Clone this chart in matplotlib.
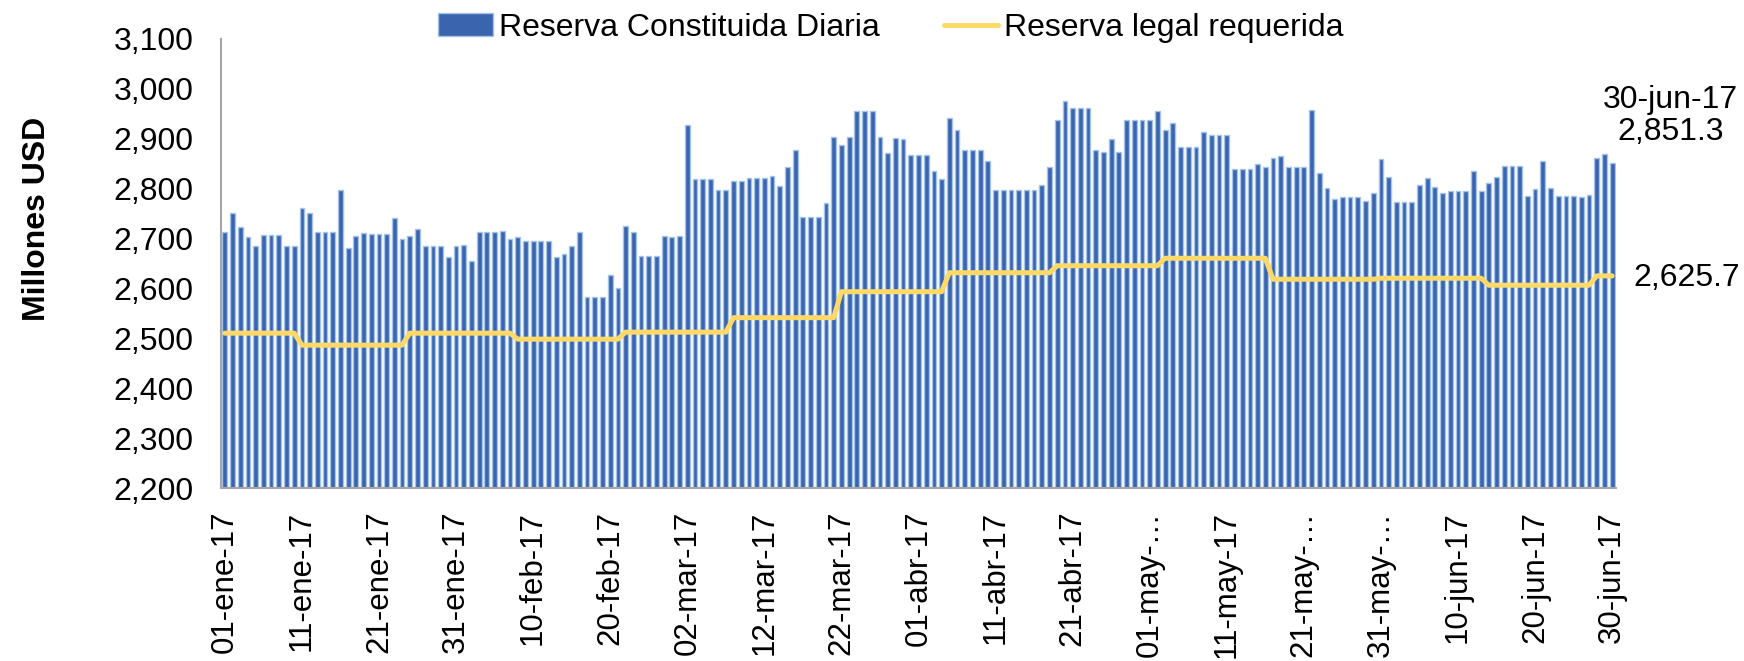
import numpy as np
import matplotlib
matplotlib.use("Agg")
import matplotlib.pyplot as plt

plt.rcParams['font.family'] = ['Liberation Sans', 'DejaVu Sans']

# Reserva constituida diaria, 01-ene-17 .. 30-jun-17 (millones USD)
reserva = [
    2714, 2751, 2723, 2703, 2685, 2708, 2708, 2708, 2686, 2686,
    2762, 2751, 2714, 2714, 2714, 2798, 2681, 2705, 2712, 2710,
    2710, 2710, 2742, 2699, 2705, 2719, 2686, 2686,
    2686, 2664, 2686, 2688, 2656, 2714, 2714, 2714, 2716, 2700,
    2703, 2696, 2696, 2696, 2696, 2664, 2669, 2686, 2713, 2583,
    2583, 2583, 2628, 2601, 2725, 2713, 2666,
    2666, 2666, 2705, 2703, 2706, 2928, 2820, 2820, 2820, 2798,
    2797, 2815, 2816, 2821, 2821, 2821, 2826, 2805, 2843, 2877,
    2743, 2743, 2743, 2771, 2904, 2887, 2904,
    2956, 2956, 2956, 2904, 2871, 2902, 2899, 2868, 2868, 2868,
    2835, 2820, 2942, 2918, 2877, 2877, 2877, 2855, 2798, 2798,
    2798, 2798, 2798, 2798, 2807, 2843,
    2938, 2976, 2961, 2961, 2961, 2877, 2873, 2899, 2873, 2938,
    2938, 2938, 2938, 2956, 2918, 2932, 2883, 2883, 2883, 2914,
    2908, 2908, 2908, 2840, 2840, 2840, 2850, 2844, 2861,
    2865, 2843, 2843, 2843, 2957, 2831, 2802, 2780, 2783, 2783,
    2783, 2775, 2792, 2859, 2823, 2774, 2774, 2774, 2808, 2821,
    2803, 2792, 2796, 2796, 2796, 2835, 2795,
    2811, 2823, 2846, 2846, 2846, 2785, 2799, 2855, 2802, 2786,
    2786, 2786, 2783, 2787, 2861, 2869, 2851.3,
]

# Reserva legal requerida: nivel por periodo y numero de dias del periodo
legal_niveles = [2511, 2487, 2511, 2499, 2513, 2542, 2594, 2632, 2646,
                 2661, 2619, 2621, 2607, 2625.7]
legal_dias = [10, 14, 14, 14, 14, 14, 14, 14, 14, 14, 14, 14, 14, 3]
legal = np.repeat(legal_niveles, legal_dias)

tick_labels = ['01-ene-17', '11-ene-17', '21-ene-17', '31-ene-17', '10-feb-17',
               '20-feb-17', '02-mar-17', '12-mar-17', '22-mar-17', '01-abr-17',
               '11-abr-17', '21-abr-17', '01-may-\u2026', '11-may-17', '21-may-\u2026',
               '31-may-\u2026', '10-jun-17', '20-jun-17', '30-jun-17']

x = np.arange(len(reserva))
fs = 23

fig = plt.figure(figsize=(17.44, 6.61), dpi=100)
ax = fig.add_axes([0.1267, 0.261, 0.7999, 0.680])

bars = ax.bar(x, reserva, width=0.62, color='#3B64AF', edgecolor='#A3C4E8',
              linewidth=1.0, label='Reserva Constituida Diaria')
line, = ax.plot(x, legal, color='#FFD966', linewidth=3.6, solid_capstyle='round',
                label='Reserva legal requerida')

ax.set_xlim(-0.5, len(reserva) - 0.5)
ax.set_ylim(2200, 3100)
ax.set_yticks(np.arange(2200, 3101, 100))
ax.set_yticklabels(['{:,}'.format(v) for v in range(2200, 3101, 100)])
ax.set_xticks(x[::10])
ax.set_xticklabels(tick_labels, rotation=90, va='top', ha='center')
ax.tick_params(axis='y', length=0, pad=20, labelsize=fs)
ax.tick_params(axis='x', length=0, pad=16, labelsize=22.5)

for s in ['top', 'right']:
    ax.spines[s].set_visible(False)
for s in ['left', 'bottom']:
    ax.spines[s].set_color('#A6A6A6')
    ax.spines[s].set_linewidth(1.5)

ax.set_ylabel('Millones USD', fontsize=fs, fontweight='bold')
ax.yaxis.set_label_coords(-0.121, 0.60)

ax.annotate('30-jun-17\n{:,.1f}'.format(reserva[-1]), xy=(x[-1], reserva[-1]),
            xytext=(58, 47), textcoords='offset pixels', ha='center', va='center',
            fontsize=fs, linespacing=1.1)
ax.annotate('{:,.1f}'.format(legal[-1]), xy=(x[-1], legal[-1]),
            xytext=(75, -2), textcoords='offset pixels', ha='center', va='center',
            fontsize=fs)

fig.legend(handles=[bars, line], loc='center', bbox_to_anchor=(0.511, 0.958),
           ncol=2, frameon=False, fontsize=fs, handlelength=1.7,
           handletextpad=0.2, columnspacing=2.0)

fig.savefig('out.png', dpi=100)
